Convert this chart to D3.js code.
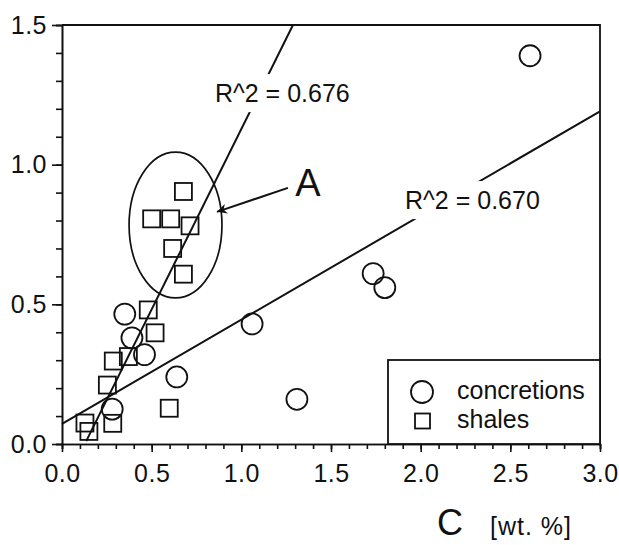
<!DOCTYPE html>
<html>
<head>
  <meta charset="UTF-8">
  <title>C vs wt.% scatter</title>
  <script src="https://cdn.jsdelivr.net/npm/d3@7"></script>
  <style>
    body { margin: 0; background: #fff; }
    svg { font-family: "Liberation Sans", Arial, sans-serif; }
    .axis path, .axis line { stroke: #111; stroke-width: 1.6; }
    .axis text { font-size: 25px; fill: #111; letter-spacing: 0.5px; }
  </style>
</head>
<body>
<svg id="chart" width="619" height="545"></svg>
<script>
// data
const concretions = [
  [2.61, 1.39], [1.735, 0.61], [1.80, 0.56], [1.06, 0.43], [1.31, 0.16],
  [0.64, 0.24], [0.35, 0.465], [0.39, 0.38], [0.46, 0.32], [0.28, 0.125]
];
const shales = [
  [0.677, 0.904], [0.50, 0.806], [0.606, 0.806], [0.714, 0.781], [0.617, 0.70],
  [0.677, 0.608], [0.481, 0.48], [0.519, 0.398], [0.286, 0.297], [0.37, 0.313],
  [0.253, 0.211], [0.598, 0.128], [0.283, 0.074], [0.128, 0.075], [0.15, 0.045]
];
// [intercept, slope, xStart]
const fitSteep = [-0.164, 1.292, 0.135];
const fitFlat = [0.072, 0.373, 0.0];
const xTicks = [0, 0.5, 1.0, 1.5, 2.0, 2.5, 3.0];
const yTicks = [0, 0.5, 1.0, 1.5];
const legendItems = ['concretions', 'shales'];
// annotation anchors in data units
const ellipseA = { cx: 0.633, cy: 0.784, rx: 0.259, ry: 0.261 };
const arrowA = [[1.26, 0.917], [0.864, 0.831]];
const labelA = [1.30, 0.888];
const labelR1 = [0.853, 1.224, 'R^2 = 0.676'];
const labelR2 = [1.913, 0.841, 'R^2 = 0.670'];

const svg = d3.select('#chart');
const x = d3.scaleLinear().domain([0, 3]).range([62, 600]);
const y = d3.scaleLinear().domain([0, 1.5]).range([444, 25]);

svg.append('defs').append('marker')
  .attr('id', 'head').attr('viewBox', '0 0 10 10').attr('refX', 10).attr('refY', 5)
  .attr('markerWidth', 14).attr('markerHeight', 10).attr('markerUnits', 'userSpaceOnUse')
  .attr('orient', 'auto')
  .append('path').attr('d', 'M0,0 L10,5 L0,10 L3,5 Z').attr('fill', '#111');

// frame
svg.append('path')
  .attr('d', `M${x(0)},${y(1.5)} H${x(3)} V${y(0)}`)
  .attr('fill', 'none').attr('stroke', '#111').attr('stroke-width', 1.8);

// axes: minor then major
const minorX = d3.range(0, 31).map(d => d / 10);
const minorY = d3.range(0, 16).map(d => d / 10);
svg.append('g').attr('class', 'axis').attr('transform', `translate(0,${y(0)})`)
  .call(d3.axisBottom(x).tickValues(minorX).tickSize(5).tickFormat(''));
svg.append('g').attr('class', 'axis').attr('transform', `translate(0,${y(0)})`)
  .call(d3.axisBottom(x).tickValues(xTicks).tickSize(8).tickSizeOuter(0).tickPadding(12).tickFormat(d3.format('.1f')));
svg.append('g').attr('class', 'axis').attr('transform', `translate(${x(0)},0)`)
  .call(d3.axisLeft(y).tickValues(minorY).tickSize(6).tickFormat(''));
svg.append('g').attr('class', 'axis').attr('transform', `translate(${x(0)},0)`)
  .call(d3.axisLeft(y).tickValues(yTicks).tickSize(10).tickSizeOuter(0).tickPadding(5).tickFormat(d3.format('.1f')));

// fitted lines
const steepEnd = (1.5 - fitSteep[0]) / fitSteep[1];
svg.append('line')
  .attr('x1', x(fitSteep[2])).attr('y1', y(fitSteep[0] + fitSteep[1] * fitSteep[2]))
  .attr('x2', x(steepEnd)).attr('y2', y(1.5))
  .attr('stroke', '#111').attr('stroke-width', 2);
svg.append('line')
  .attr('x1', x(fitFlat[2])).attr('y1', y(fitFlat[0] + fitFlat[1] * fitFlat[2]))
  .attr('x2', x(3)).attr('y2', y(fitFlat[0] + fitFlat[1] * 3))
  .attr('stroke', '#111').attr('stroke-width', 2);

// ellipse A and arrow
svg.append('ellipse')
  .attr('cx', x(ellipseA.cx)).attr('cy', y(ellipseA.cy))
  .attr('rx', x(ellipseA.rx) - x(0)).attr('ry', y(0) - y(ellipseA.ry))
  .attr('fill', 'none').attr('stroke', '#111').attr('stroke-width', 1.7);
svg.append('line')
  .attr('x1', x(arrowA[0][0])).attr('y1', y(arrowA[0][1]))
  .attr('x2', x(arrowA[1][0])).attr('y2', y(arrowA[1][1]))
  .attr('stroke', '#111').attr('stroke-width', 2).attr('marker-end', 'url(#head)');
svg.append('text').attr('x', x(labelA[0])).attr('y', y(labelA[1]))
  .attr('font-size', 38).attr('fill', '#111').text('A');

// R^2 labels with white knock-out behind
[labelR1, labelR2].forEach(l => {
  const g = svg.append('g');
  const t = g.append('text').attr('x', x(l[0])).attr('y', y(l[1]))
    .attr('font-size', 25).attr('fill', '#111').text(l[2]);
  const b = t.node().getBBox();
  g.insert('rect', 'text').attr('x', b.x - 5).attr('y', b.y - 5)
    .attr('width', b.width + 10).attr('height', b.height + 10).attr('fill', '#fff');
});

// points
const side = 17;
svg.append('g').selectAll('rect').data(shales).join('rect')
  .attr('x', d => x(d[0]) - side / 2).attr('y', d => y(d[1]) - side / 2)
  .attr('width', side).attr('height', side)
  .attr('fill', 'none').attr('stroke', '#111').attr('stroke-width', 1.8);
svg.append('g').selectAll('circle').data(concretions).join('circle')
  .attr('cx', d => x(d[0])).attr('cy', d => y(d[1])).attr('r', 10.5)
  .attr('fill', 'none').attr('stroke', '#111').attr('stroke-width', 1.8);

// legend
const lg = svg.append('g');
lg.append('rect').attr('x', 388).attr('y', 360).attr('width', x(3) - 388).attr('height', y(0) - 360)
  .attr('fill', '#fff').attr('stroke', '#111').attr('stroke-width', 1.8);
lg.append('circle').attr('cx', 422).attr('cy', 392).attr('r', 11)
  .attr('fill', 'none').attr('stroke', '#111').attr('stroke-width', 1.8);
lg.append('rect').attr('x', 415).attr('y', 413.5).attr('width', 15).attr('height', 15)
  .attr('fill', 'none').attr('stroke', '#111').attr('stroke-width', 1.8);
lg.selectAll('text').data(legendItems).join('text')
  .attr('x', 457).attr('y', (d, i) => 399 + i * 29)
  .attr('font-size', 25).attr('fill', '#111').text(d => d);

// x axis title
svg.append('text').attr('x', 437).attr('y', 535).attr('font-size', 36).attr('fill', '#111').text('C');
svg.append('text').attr('x', 490).attr('y', 535).attr('font-size', 25).attr('letter-spacing', 1)
  .attr('fill', '#111').text('[wt. %]');
</script>
</body>
</html>
